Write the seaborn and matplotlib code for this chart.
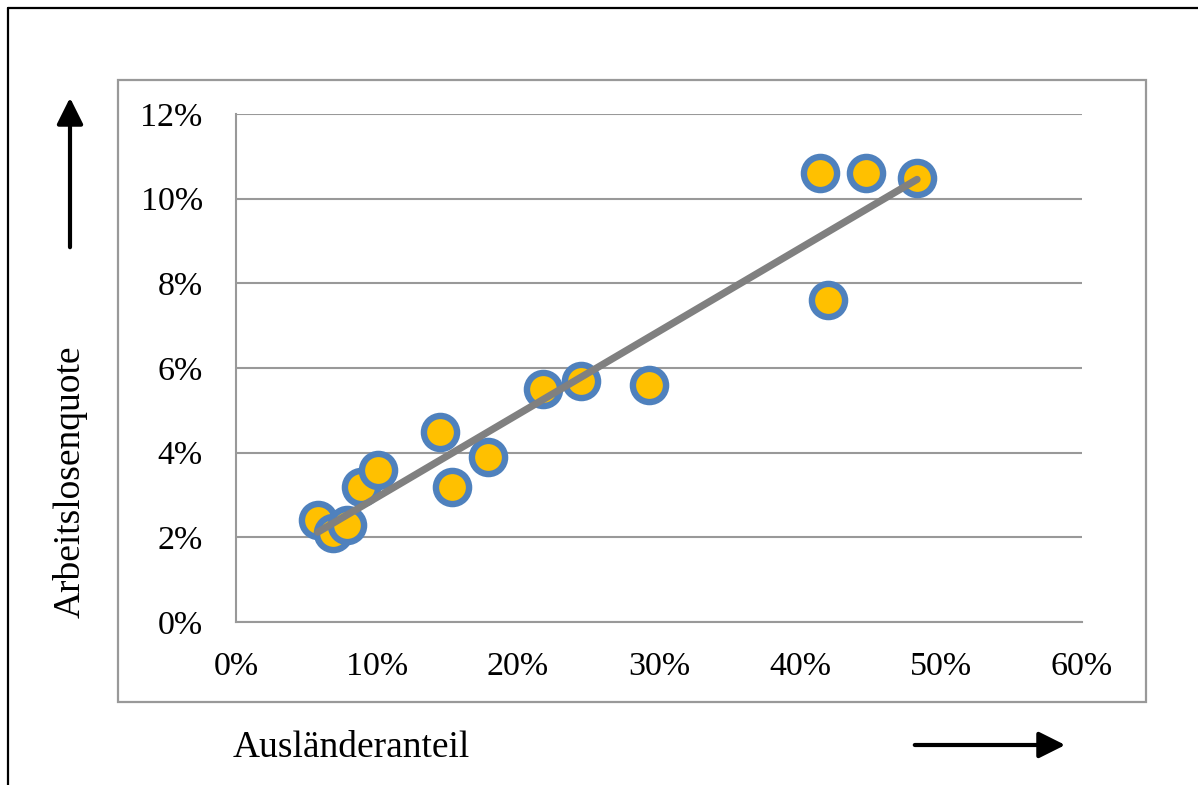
import numpy as np
import pandas as pd
import matplotlib
matplotlib.use("Agg")
import matplotlib.pyplot as plt
from matplotlib.patches import Rectangle, FancyArrowPatch
from matplotlib.lines import Line2D
from matplotlib.ticker import PercentFormatter, MultipleLocator
import seaborn as sns

# Daten (in Prozent)
auslaenderanteil = [5.8, 6.9, 7.9, 8.9, 10.1, 14.5, 15.3, 17.9, 21.8, 24.5,
                    29.3, 41.4, 42.0, 44.7, 48.3]
arbeitslosenquote = [2.4, 2.1, 2.3, 3.2, 3.6, 4.5, 3.2, 3.9, 5.5, 5.7,
                     5.6, 10.6, 7.6, 10.6, 10.5]
df = pd.DataFrame({"x": auslaenderanteil, "y": arbeitslosenquote})

sns.set_theme(style="white")
plt.rcParams["font.family"] = ["Liberation Serif", "DejaVu Serif"]
plt.rcParams["text.color"] = "black"

fig = plt.figure(figsize=(11.98, 7.85), dpi=100)
ax = fig.add_axes([236 / 1198, 1 - 622 / 785, (1082 - 236) / 1198, (622 - 114) / 785])

grid_c = "#999999"
sns.scatterplot(data=df, x="x", y="y", ax=ax, s=570, color="#ffc000",
                edgecolor="#4f81bd", linewidth=4.6, zorder=3)
# Trendlinie liegt ueber den Punkten
sns.regplot(data=df, x="x", y="y", scatter=False, ci=None, ax=ax,
            line_kws=dict(color="#808080", lw=5.2, solid_capstyle="round", zorder=4))

ax.set_xlim(0, 60)
ax.set_ylim(0, 12)
ax.xaxis.set_major_locator(MultipleLocator(10))
ax.yaxis.set_major_locator(MultipleLocator(2))
ax.xaxis.set_major_formatter(PercentFormatter(xmax=100, decimals=0))
ax.yaxis.set_major_formatter(PercentFormatter(xmax=100, decimals=0))
ax.grid(axis="y", color=grid_c, lw=1.5)
ax.set_axisbelow(True)
for s in ["top", "right"]:
    ax.spines[s].set_visible(False)
for s in ["left", "bottom"]:
    ax.spines[s].set_color(grid_c)
    ax.spines[s].set_linewidth(1.5)
ax.tick_params(axis="both", which="major", direction="out", length=7, width=1.5,
               color=grid_c, labelsize=24.5, labelcolor="black")
ax.tick_params(axis="y", pad=17)
ax.tick_params(axis="x", pad=14)
ax.set_xlabel("")
ax.set_ylabel("")

# innerer grauer Rahmen
fig.add_artist(Rectangle((118 / 1198, 1 - 702 / 785), (1146 - 118) / 1198, (702 - 80) / 785,
                         transform=fig.transFigure, fill=False, edgecolor="#999999", lw=1.6))
# aeusserer schwarzer Rahmen (links und oben)
fig.add_artist(Line2D([8 / 1198, 8 / 1198], [0, 1 - 8 / 785], transform=fig.transFigure,
                      color="black", lw=1.6))
fig.add_artist(Line2D([8 / 1198, 1], [1 - 8 / 785, 1 - 8 / 785], transform=fig.transFigure,
                      color="black", lw=1.6))

# Achsenbeschriftungen
fig.text(70 / 1198, 1 - 482 / 785, "Arbeitslosenquote", rotation=90, ha="center",
         va="center", fontsize=27, color="black")
fig.text(351 / 1198, 1 - 748 / 785, "Ausländeranteil", ha="center", va="center",
         fontsize=27, color="black")

# Pfeile
fig.add_artist(FancyArrowPatch((70, 785 - 250), (70, 785 - 95), transform=None,
                               arrowstyle="-|>,head_length=0.8,head_width=0.4",
                               mutation_scale=20, lw=3, color="black"))
fig.add_artist(FancyArrowPatch((912, 785 - 745), (1068, 785 - 745), transform=None,
                               arrowstyle="-|>,head_length=0.8,head_width=0.4",
                               mutation_scale=20, lw=3, color="black"))

fig.savefig("out.png", dpi=100)
